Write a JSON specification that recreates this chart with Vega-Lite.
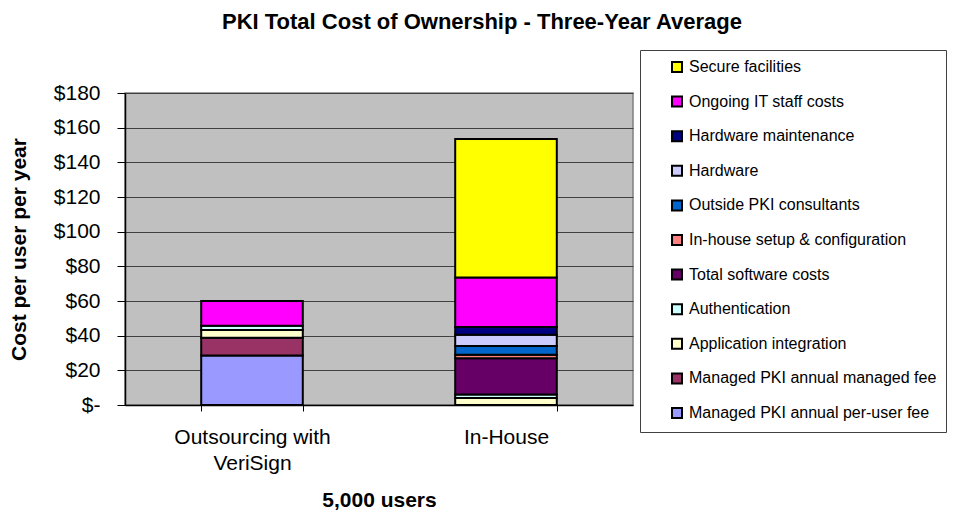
{
  "$schema": "https://vega.github.io/schema/vega-lite/v6.json",
  "width": 508,
  "height": 312,
  "autosize": {"type": "none"},
  "padding": {"left": 125, "top": 93, "right": 322, "bottom": 108},
  "background": "white",
  "title": {
    "text": "PKI Total Cost of Ownership - Three-Year Average",
    "fontSize": 22,
    "fontWeight": "bold",
    "color": "black",
    "anchor": "middle",
    "dx": 103,
    "offset": 16
  },
  "config": {
    "font": "Liberation Sans",
    "view": {"fill": "#C0C0C0", "stroke": "#808080", "strokeWidth": 1.5}
  },
  "data": {
    "values": [
      {"group": "Outsourcing with VeriSign", "component": "Managed PKI annual per-user fee", "cost": 28.5, "k": 1},
      {"group": "Outsourcing with VeriSign", "component": "Managed PKI annual managed fee", "cost": 10.3, "k": 2},
      {"group": "Outsourcing with VeriSign", "component": "Application integration", "cost": 4.5, "k": 3},
      {"group": "Outsourcing with VeriSign", "component": "Authentication", "cost": 2.4, "k": 4},
      {"group": "Outsourcing with VeriSign", "component": "Ongoing IT staff costs", "cost": 14.3, "k": 10},
      {"group": "In-House", "component": "Application integration", "cost": 4, "k": 3},
      {"group": "In-House", "component": "Authentication", "cost": 2, "k": 4},
      {"group": "In-House", "component": "Total software costs", "cost": 21, "k": 5},
      {"group": "In-House", "component": "In-house setup & configuration", "cost": 2, "k": 6},
      {"group": "In-House", "component": "Outside PKI consultants", "cost": 5, "k": 7},
      {"group": "In-House", "component": "Hardware", "cost": 6.5, "k": 8},
      {"group": "In-House", "component": "Hardware maintenance", "cost": 4.5, "k": 9},
      {"group": "In-House", "component": "Ongoing IT staff costs", "cost": 28.5, "k": 10},
      {"group": "In-House", "component": "Secure facilities", "cost": 80, "k": 11}
    ]
  },
  "mark": {"type": "bar", "stroke": "black", "strokeWidth": 2, "opacity": 1},
  "encoding": {
    "x": {
      "field": "group",
      "type": "nominal",
      "sort": ["Outsourcing with VeriSign", "In-House"],
      "scale": {"paddingInner": 0.6, "paddingOuter": 0.3},
      "axis": {
        "title": "5,000 users",
        "titleFontSize": 21,
        "titleFontWeight": "bold",
        "titleColor": "black",
        "titlePadding": 16,
        "labelAngle": 0,
        "labelFontSize": 21,
        "labelColor": "black",
        "labelPadding": 15,
        "labelLineHeight": 26,
        "labelExpr": "datum.label == 'Outsourcing with VeriSign' ? ['Outsourcing with', 'VeriSign'] : datum.label",
        "tickBand": "extent",
        "tickSize": 6,
        "tickColor": "black",
        "domainColor": "black",
        "domainWidth": 1.5,
        "grid": false
      }
    },
    "y": {
      "field": "cost",
      "type": "quantitative",
      "stack": "zero",
      "scale": {"domain": [0, 180], "nice": false},
      "axis": {
        "title": "Cost per user per year",
        "titleFontSize": 21,
        "titleFontWeight": "bold",
        "titleColor": "black",
        "titlePadding": 24,
        "values": [0, 20, 40, 60, 80, 100, 120, 140, 160, 180],
        "labelExpr": "datum.value == 0 ? '$-' : '$' + datum.value",
        "labelFontSize": 21,
        "labelColor": "black",
        "labelPadding": 17,
        "tickSize": 8,
        "tickColor": "black",
        "domainColor": "black",
        "domainWidth": 1.5,
        "grid": true,
        "gridColor": "#404040",
        "gridWidth": 1
      }
    },
    "color": {
      "field": "component",
      "type": "nominal",
      "scale": {
        "domain": ["Secure facilities", "Ongoing IT staff costs", "Hardware maintenance", "Hardware", "Outside PKI consultants", "In-house setup & configuration", "Total software costs", "Authentication", "Application integration", "Managed PKI annual managed fee", "Managed PKI annual per-user fee"],
        "range": ["#FFFF00", "#FF00FF", "#000080", "#CCCCFF", "#0066CC", "#FF8080", "#660066", "#CCFFFF", "#FFFFCC", "#993366", "#9999FF"]
      },
      "legend": {
        "title": null,
        "orient": "none",
        "legendX": 515,
        "legendY": -43,
        "padding": 9,
        "symbolOffset": 20,
        "symbolType": "square",
        "symbolSize": 100,
        "symbolStrokeColor": "black",
        "symbolStrokeWidth": 2,
        "symbolOpacity": 1,
        "labelFontSize": 16,
        "labelColor": "black",
        "labelOffset": 4,
        "labelLimit": 400,
        "labelExpr": "datum.label + '  '",
        "rowPadding": 16.6,
        "strokeColor": "#404040",
        "fillColor": "white"
      }
    },
    "order": {"field": "k", "type": "quantitative"}
  }
}
